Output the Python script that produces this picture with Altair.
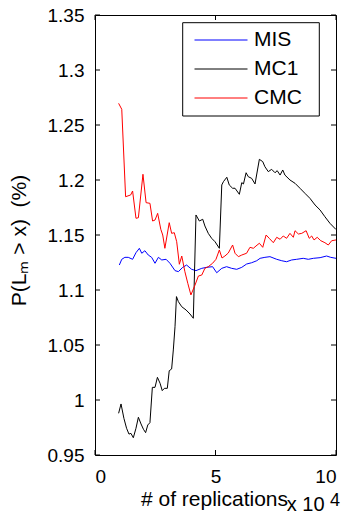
import altair as alt
import pandas as pd

# ---------------- data (x in units of 10^4 replications) ----------------
series_names = ["MIS", "MC1", "CMC"]
series_colors = ["#0000ff", "#000000", "#ff0000"]

mis_x = [1.01, 1.11, 1.24, 1.38, 1.56, 1.70, 1.84, 1.94, 2.07, 2.21, 2.35, 2.49, 2.63, 2.77,
         2.95, 3.11, 3.32, 3.46, 3.64, 3.80, 4.01, 4.19, 4.43, 4.63, 4.88, 5.05, 5.26, 5.46,
         5.67, 5.88, 6.09, 6.29, 6.50, 6.71, 6.85, 7.05, 7.26, 7.54, 7.75, 7.95, 8.16, 8.37,
         8.64, 8.85, 9.06, 9.34, 9.61, 9.78, 10.0]
mis_y = [1.1227, 1.1279, 1.1297, 1.1297, 1.1279, 1.1339, 1.1379, 1.1334, 1.1357, 1.1318,
         1.1297, 1.1243, 1.1297, 1.1273, 1.1279, 1.1243, 1.1176, 1.1167, 1.1206, 1.1227,
         1.1188, 1.1176, 1.1197, 1.1206, 1.1212, 1.1157, 1.1197, 1.1212, 1.1197, 1.1188,
         1.1206, 1.1236, 1.1248, 1.1266, 1.1288, 1.1297, 1.1303, 1.1279, 1.1266, 1.1257,
         1.1273, 1.1279, 1.1288, 1.1279, 1.1288, 1.1294, 1.1309, 1.1297, 1.1288]

mc1_x = [0.98, 1.08, 1.20, 1.31, 1.41, 1.49, 1.59, 1.70, 1.80, 1.91, 2.01, 2.10, 2.19, 2.28,
         2.38, 2.49, 2.59, 2.70, 2.79, 2.88, 3.00, 3.08, 3.18, 3.25, 3.32, 3.38, 3.46, 3.60,
         3.78, 3.94, 4.08, 4.19, 4.33, 4.47, 4.56, 4.70, 4.84, 4.98, 5.16, 5.26, 5.33, 5.47,
         5.57, 5.71, 5.81, 5.99, 6.09, 6.16, 6.27, 6.36, 6.50, 6.64, 6.82, 6.96, 7.05, 7.19,
         7.33, 7.47, 7.56, 7.68, 7.79, 7.88, 8.09, 8.30, 8.51, 8.71, 8.92, 9.13, 9.34, 9.54,
         9.75, 10.0]
mc1_y = [0.9879, 0.9964, 0.9833, 0.9743, 0.9690, 0.9697, 0.9657, 0.9743, 0.9843, 0.9782,
         0.9734, 0.9703, 0.9773, 0.9794, 1.0115, 1.0115, 1.0206, 1.0152, 1.0085, 1.0106,
         1.0106, 1.0266, 1.0282, 1.0455, 1.0666, 1.0940, 1.0894, 1.0848, 1.0818, 1.0782,
         1.0743, 1.1682, 1.1627, 1.1643, 1.1582, 1.1515, 1.1470, 1.1439, 1.1379, 1.1955,
         1.1985, 1.2025, 1.1955, 1.1925, 1.1925, 1.1870, 1.1976, 1.1964, 1.2066, 1.2030,
         1.2015, 1.1964, 1.2188, 1.2167, 1.2121, 1.2076, 1.2097, 1.2066, 1.2085, 1.2045,
         1.2091, 1.2045, 1.2000, 1.1970, 1.1924, 1.1879, 1.1833, 1.1773, 1.1727, 1.1666,
         1.1606, 1.1550]

cmc_x = [0.98, 1.11, 1.27, 1.48, 1.56, 1.70, 1.80, 1.99, 2.12, 2.28, 2.39, 2.49, 2.60, 2.73,
         2.81, 2.90, 3.08, 3.18, 3.29, 3.39, 3.50, 3.60, 3.73, 3.85, 3.98, 4.15, 4.29, 4.43,
         4.56, 4.70, 4.88, 5.02, 5.16, 5.27, 5.39, 5.53, 5.71, 5.81, 5.95, 6.09, 6.29, 6.43,
         6.57, 6.68, 6.82, 6.96, 7.10, 7.23, 7.40, 7.54, 7.68, 7.81, 7.95, 8.09, 8.23, 8.30,
         8.44, 8.58, 8.76, 8.89, 8.99, 9.09, 9.22, 9.37, 9.54, 9.68, 9.82, 10.0]
cmc_y = [1.2697, 1.2643, 1.1848, 1.1864, 1.1900, 1.1652, 1.1657, 1.2052, 1.1794, 1.1788,
         1.1627, 1.1636, 1.1697, 1.1552, 1.1500, 1.1379, 1.1612, 1.1515, 1.1521, 1.1439,
         1.1234, 1.1309, 1.1166, 1.1061, 1.0955, 1.1045, 1.1127, 1.1136, 1.1197, 1.1212,
         1.1243, 1.1279, 1.1364, 1.1291, 1.1309, 1.1336, 1.1409, 1.1334, 1.1303, 1.1318,
         1.1334, 1.1388, 1.1379, 1.1400, 1.1425, 1.1388, 1.1500, 1.1470, 1.1430, 1.1479,
         1.1461, 1.1491, 1.1470, 1.1515, 1.1479, 1.1539, 1.1509, 1.1515, 1.1539, 1.1470,
         1.1491, 1.1455, 1.1479, 1.1448, 1.1430, 1.1409, 1.1448, 1.1455]

y_ticks = [0.95, 1.0, 1.05, 1.1, 1.15, 1.2, 1.25, 1.3, 1.35]
x_ticks = [0, 5, 10]

x_title = "# of replications"
y_title = "P(L\u2098 > x)\u00a0\u00a0(%)"
exp_base = "x 10"
exp_power = "4"

# ---------------- layout ----------------
W, H = 241, 440
FONT = "Liberation Sans"

rows = []
for name, xs, ys in zip(series_names, [mis_x, mc1_x, cmc_x], [mis_y, mc1_y, cmc_y]):
    for i, (xv, yv) in enumerate(zip(xs, ys)):
        rows.append({"series": name, "x": xv, "y": yv, "i": i})
df = pd.DataFrame(rows)

xscale = alt.Scale(domain=[0, 10], nice=False, zero=False)
yscale = alt.Scale(domain=[0.95, 1.35], nice=False, zero=False)

x_axis = alt.Axis(values=x_ticks, format="d", title=x_title, labelFontSize=19,
                  labelPadding=12, titleFontSize=21, titleX=119, titleY=50,
                  titleBaseline="alphabetic", titleAlign="center")
y_axis = alt.Axis(values=y_ticks, format="~g", title=y_title, labelFontSize=19,
                  labelPadding=11, titleFontSize=21, titleX=-70, titleY=225,
                  titleAngle=270, titleBaseline="alphabetic", titleAlign="center")

box = alt.Chart(pd.DataFrame({"a": [0]})).mark_rect(
    fill="white", stroke="black", strokeWidth=1
).encode(x=alt.value(87.7), x2=alt.value(224.3), y=alt.value(7.7), y2=alt.value(101))

lines = alt.Chart(df).mark_line(strokeWidth=1, clip=True).encode(
    x=alt.X("x:Q", scale=xscale, axis=x_axis),
    y=alt.Y("y:Q", scale=yscale, axis=y_axis),
    color=alt.Color(
        "series:N",
        scale=alt.Scale(domain=series_names, range=series_colors),
        legend=alt.Legend(
            orient="none", legendX=99, legendY=13.5, title=None,
            symbolType="stroke", symbolSize=2809, symbolStrokeWidth=1,
            clipHeight=23, rowPadding=6, labelOffset=6, labelFontSize=21,
            labelFont=FONT, labelColor="black", padding=0,
        ),
    ),
    order="i:Q",
)

yt = pd.DataFrame({"y": y_ticks})
xt = pd.DataFrame({"x": x_ticks})
rule = dict(color="black", strokeWidth=1)
ytick_l = alt.Chart(yt).mark_rule(**rule).encode(
    y=alt.Y("y:Q", scale=yscale, title=y_title), x=alt.value(0), x2=alt.value(5))
ytick_r = alt.Chart(yt).mark_rule(**rule).encode(
    y=alt.Y("y:Q", scale=yscale, title=y_title), x=alt.value(W - 5), x2=alt.value(W))
xtick_b = alt.Chart(xt).mark_rule(**rule).encode(
    x=alt.X("x:Q", scale=xscale, title=x_title), y=alt.value(H - 5), y2=alt.value(H))
xtick_t = alt.Chart(xt).mark_rule(**rule).encode(
    x=alt.X("x:Q", scale=xscale, title=x_title), y=alt.value(0), y2=alt.value(5))

exp1 = alt.Chart(pd.DataFrame({"t": [exp_base]})).mark_text(
    align="left", baseline="alphabetic", fontSize=20, font=FONT, color="black"
).encode(text="t:N", x=alt.value(191.7), y=alt.value(496))
exp2 = alt.Chart(pd.DataFrame({"t": [exp_power]})).mark_text(
    align="left", baseline="alphabetic", fontSize=18, font=FONT, color="black"
).encode(text="t:N", x=alt.value(235), y=alt.value(491))

chart = alt.layer(box, lines, ytick_l, ytick_r, xtick_b, xtick_t, exp1, exp2).properties(
    width=W, height=H,
    autosize=alt.AutoSizeParams(type="none"),
    padding={"left": 95, "top": 15, "right": 12, "bottom": 61},
    background="white",
).configure_view(
    stroke="black", strokeWidth=1
).configure_axis(
    domain=False, ticks=False, tickSize=0, grid=False,
    labelFont=FONT, titleFont=FONT, labelColor="black", titleColor="black",
    titleFontWeight="normal",
)

chart.save("out.html", embed_options={"renderer": "svg", "actions": False})
